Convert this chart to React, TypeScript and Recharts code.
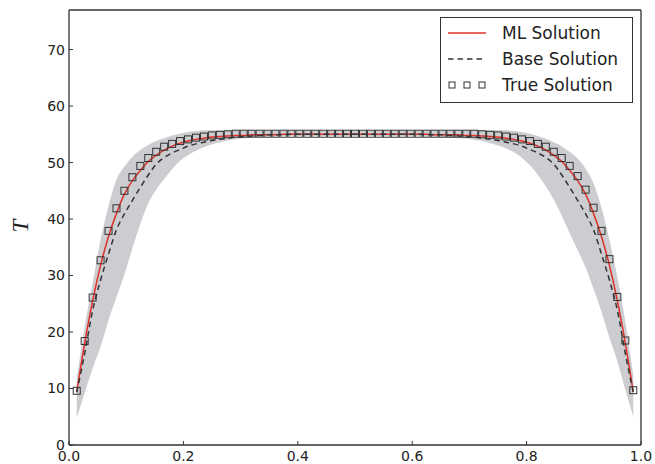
import React from 'react';
import { ComposedChart, Line, Area, XAxis, YAxis, Legend } from 'recharts';

const xs = [0.0135, 0.0274, 0.0413, 0.0552, 0.0691, 0.0830, 0.0969, 0.1108, 0.1247, 0.1386, 0.1525, 0.1664, 0.1803, 0.1942, 0.2081, 0.2220, 0.2359, 0.2498, 0.2637, 0.2776, 0.2915, 0.3054, 0.3193, 0.3332, 0.3471, 0.3610, 0.3749, 0.3888, 0.4027, 0.4166, 0.4305, 0.4444, 0.4583, 0.4722, 0.4861, 0.5000,
  0.5139, 0.5278, 0.5417, 0.5556, 0.5695, 0.5834, 0.5973, 0.6112, 0.6251, 0.6390, 0.6529, 0.6668, 0.6807, 0.6946, 0.7085, 0.7224, 0.7363, 0.7502, 0.7641, 0.7780, 0.7919, 0.8058, 0.8197, 0.8336, 0.8475, 0.8614, 0.8753, 0.8892, 0.9031, 0.9170, 0.9309, 0.9448, 0.9587, 0.9726, 0.9865];

const trueT = [9.6, 18.4, 26.1, 32.7, 37.9, 41.9, 45.0, 47.4, 49.4, 50.8, 51.9, 52.8, 53.3, 53.8, 54.1, 54.4, 54.6, 54.8, 54.9, 55.0, 55.1, 55.1, 55.1, 55.1, 55.1, 55.1, 55.1, 55.1, 55.1, 55.1, 55.1, 55.1, 55.1, 55.1, 55.1, 55.1,
  55.1, 55.1, 55.1, 55.1, 55.1, 55.1, 55.1, 55.1, 55.1, 55.1, 55.1, 55.1, 55.1, 55.1, 55.1, 55.0, 54.9, 54.8, 54.6, 54.4, 54.1, 53.8, 53.3, 52.8, 51.9, 50.8, 49.4, 47.6, 45.2, 42.0, 37.9, 32.9, 26.2, 18.5, 9.7];

const mlT = [9.4, 18.0, 25.5, 31.8, 36.9, 41.0, 44.4, 46.8, 48.6, 50.2, 51.3, 52.2, 52.9, 53.4, 53.8, 54.1, 54.3, 54.5, 54.6, 54.7, 54.8, 54.8, 54.9, 54.9, 54.9, 54.9, 55.0, 55.0, 55.0, 55.0, 55.0, 55.0, 55.0, 55.0, 55.0, 55.0,
  55.0, 55.0, 55.0, 55.0, 55.0, 55.0, 55.0, 55.0, 55.0, 54.9, 54.9, 54.9, 54.9, 54.8, 54.8, 54.7, 54.6, 54.5, 54.3, 54.1, 53.8, 53.4, 52.9, 52.2, 51.3, 50.2, 48.6, 46.8, 44.4, 41.0, 36.9, 31.8, 25.5, 18.0, 9.4];

const baseT = [9.3, 16.2, 23.8, 29.2, 33.8, 38.1, 40.9, 43.3, 45.6, 47.8, 49.7, 50.9, 51.7, 52.3, 52.9, 53.3, 53.6, 53.9, 54.1, 54.3, 54.5, 54.6, 54.7, 54.8, 54.9, 54.9, 54.9, 55.0, 55.0, 55.0, 55.0, 55.0, 55.0, 55.0, 55.0, 55.0,
  55.0, 55.0, 55.0, 55.0, 55.0, 55.0, 55.0, 55.0, 54.9, 54.9, 54.9, 54.8, 54.7, 54.6, 54.5, 54.3, 54.1, 53.9, 53.6, 53.3, 52.9, 52.3, 51.7, 50.9, 49.7, 47.8, 45.6, 43.3, 40.9, 38.1, 33.8, 29.2, 23.8, 16.2, 9.3];

const bandLow = [4.8, 9.2, 13.6, 17.4, 22.1, 26.2, 30.2, 34.8, 39.1, 42.8, 45.2, 47.1, 48.8, 50.3, 51.3, 52.1, 52.7, 53.2, 53.6, 53.9, 54.1, 54.3, 54.4, 54.5, 54.6, 54.6, 54.7, 54.7, 54.7, 54.7, 54.7, 54.7, 54.7, 54.7, 54.7, 54.7,
  54.7, 54.7, 54.7, 54.7, 54.7, 54.7, 54.7, 54.7, 54.6, 54.6, 54.5, 54.4, 54.3, 54.2, 54.0, 53.8, 53.4, 53.0, 52.5, 51.8, 50.8, 49.5, 47.8, 45.8, 43.4, 40.6, 37.5, 34.5, 31.4, 27.6, 23.6, 19.0, 14.8, 9.8, 5.0];

const bandHigh = [11.8, 20.9, 28.7, 36.3, 42.3, 47.0, 49.3, 51.0, 52.2, 53.1, 53.8, 54.3, 54.8, 55.1, 55.4, 55.6, 55.7, 55.7, 55.7, 55.7, 55.7, 55.7, 55.7, 55.6, 55.6, 55.6, 55.6, 55.6, 55.6, 55.6, 55.6, 55.6, 55.6, 55.6, 55.6, 55.6,
  55.6, 55.6, 55.6, 55.6, 55.6, 55.6, 55.6, 55.6, 55.6, 55.6, 55.6, 55.6, 55.7, 55.7, 55.7, 55.7, 55.7, 55.7, 55.7, 55.6, 55.4, 55.1, 54.7, 54.2, 53.6, 52.9, 51.9, 50.7, 48.9, 46.3, 42.0, 36.3, 29.6, 21.8, 12.3];

const xTicks = [0, 0.2, 0.4, 0.6, 0.8, 1.0];
const yTicks = [0, 10, 20, 30, 40, 50, 60, 70];
const seriesNames = ['ML Solution', 'Base Solution', 'True Solution'];

const data = xs.map((x, i) => ({
  x,
  ml: mlT[i],
  base: baseT[i],
  tr: trueT[i],
  band: [bandLow[i], bandHigh[i]],
}));

const RED = '#e0302a';
const DARK = '#333333';
const FONT = '"DejaVu Sans", sans-serif';

const SquareDot = (props: any) => {
  const { cx, cy, index } = props;
  if (cx == null || cy == null) return <g key={index} />;
  return <rect key={index} x={cx - 3.5} y={cy - 3.5} width={7} height={7} fill="none" stroke={DARK} strokeWidth={1} />;
};

const LegendBox = () => {
  const rows = [16, 42, 68];
  return (
    <svg width={193} height={86} style={{ display: 'block' }}>
      <rect x={0.5} y={0.5} width={192} height={85} fill="#fff" stroke={DARK} strokeWidth={1} />
      <line x1={8} x2={46} y1={rows[0]} y2={rows[0]} stroke={RED} strokeWidth={1.5} />
      <line x1={8} x2={46} y1={rows[1]} y2={rows[1]} stroke={DARK} strokeWidth={1.5} strokeDasharray="5.5 4" />
      {[12, 27, 42].map((cx) => (
        <rect key={cx} x={cx - 3} y={rows[2] - 3} width={6} height={6} fill="none" stroke={DARK} strokeWidth={1} />
      ))}
      {seriesNames.map((n, i) => (
        <text key={n} x={62} y={rows[i]} dominantBaseline="central" fontFamily={FONT} fontSize={17} fill="#222">
          {n}
        </text>
      ))}
    </svg>
  );
};

export default function App() {
  const tickStyle = { fontFamily: FONT, fontSize: 14, fill: '#222' };
  return (
    <div style={{ position: 'absolute', left: 0, top: 0, background: '#fff' }}>
      <ComposedChart width={655} height={464} data={data} margin={{ top: 9, right: 13, bottom: 0, left: 0 }}>
        <XAxis
          dataKey="x"
          type="number"
          domain={[0, 1]}
          ticks={xTicks}
          tickFormatter={(v: number) => v.toFixed(1)}
          height={19}
          tickSize={-4}
          tickMargin={10}
          tick={tickStyle}
          axisLine={{ stroke: DARK, strokeWidth: 1.3 }}
          tickLine={{ stroke: DARK, strokeWidth: 1 }}
          allowDataOverflow
          interval={0}
        />
        <XAxis
          xAxisId="top"
          orientation="top"
          dataKey="x"
          type="number"
          domain={[0, 1]}
          ticks={xTicks}
          height={1}
          tickSize={-4}
          tickMargin={2}
          tick={false}
          axisLine={{ stroke: DARK, strokeWidth: 1.3 }}
          tickLine={{ stroke: DARK, strokeWidth: 1 }}
          allowDataOverflow
          interval={0}
        />
        <YAxis
          type="number"
          domain={[0, 77]}
          ticks={yTicks}
          width={69}
          tickSize={-4}
          tickMargin={8}
          tick={tickStyle}
          axisLine={{ stroke: DARK, strokeWidth: 1.3 }}
          tickLine={{ stroke: DARK, strokeWidth: 1 }}
          allowDataOverflow
          interval={0}
          label={{
            content: () => (
              <text
                x={20}
                y={226}
                transform="rotate(-90 20 226)"
                textAnchor="middle"
                dominantBaseline="central"
                fontFamily='"Liberation Serif", "DejaVu Serif", serif'
                fontStyle="italic"
                fontSize={23}
                fill="#222"
              >
                T
              </text>
            ),
          }}
        />
        <YAxis
          yAxisId="right"
          orientation="right"
          type="number"
          domain={[0, 77]}
          ticks={yTicks}
          width={1}
          tickSize={-4}
          tickMargin={2}
          tick={false}
          axisLine={{ stroke: DARK, strokeWidth: 1.3 }}
          tickLine={{ stroke: DARK, strokeWidth: 1 }}
          allowDataOverflow
          interval={0}
        />
        <Area
          dataKey="band"
          type="monotone"
          fill="#cbcdd0"
          fillOpacity={1}
          stroke="none"
          isAnimationActive={false}
          legendType="none"
        />
        <Line dataKey="ml" name={seriesNames[0]} type="monotone" stroke={RED} strokeWidth={1.5} dot={false} isAnimationActive={false} />
        <Line dataKey="base" name={seriesNames[1]} type="monotone" stroke={DARK} strokeWidth={1.5} strokeDasharray="5.5 4" dot={false} isAnimationActive={false} />
        <Line dataKey="tr" name={seriesNames[2]} stroke="none" dot={SquareDot} activeDot={false} isAnimationActive={false} />
        <Line dataKey="tr" xAxisId="top" yAxisId="right" stroke="none" dot={false} activeDot={false} legendType="none" isAnimationActive={false} />
        <Legend
          layout="vertical"
          align="center"
          verticalAlign="middle"
          content={() => <LegendBox />}
          wrapperStyle={{ position: 'absolute', top: 17, left: 440, width: 193, height: 86 }}
        />
      </ComposedChart>
    </div>
  );
}
